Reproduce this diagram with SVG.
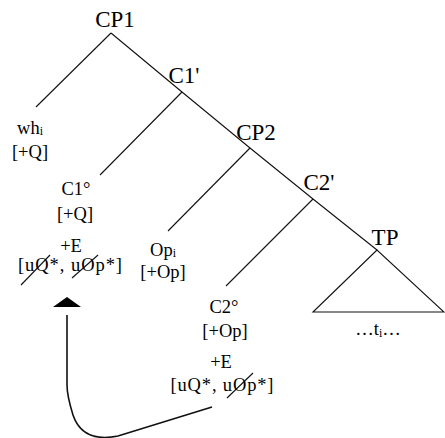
<svg xmlns="http://www.w3.org/2000/svg" width="445" height="438" viewBox="0 0 445 438">
<style>
text{font-family:"Liberation Serif","DejaVu Serif","Times New Roman",serif;fill:#000;text-anchor:middle}
.lbl{font-size:23px}
.sm{font-size:18.5px}
.sub{font-size:12px}
.ln{stroke:#111;stroke-width:1.1;fill:none}
</style>
<rect width="445" height="438" fill="#fff"/>
<g id="connectors">
<path class="ln" d="M111,33 L36,107"/>
<path class="ln" d="M111,33 L182,92 L250,148 L313,199 L377,250"/>
<path class="ln" d="M182,92 L100,175"/>
<path class="ln" d="M250,148 L168,231"/>
<path class="ln" d="M313,199 L226,286"/>
<path class="ln" d="M377,250 L313,312 L444,312 Z"/>
<path class="ln" d="M21,285 L50,255"/>
<path class="ln" d="M72,278 L98,255"/>
<path class="ln" d="M227,398 L253,373"/>
<path d="M212,407 L118,436 C98,440 80,436 73,415 C69,402 67,394 67,385 L67,315" fill="none" stroke="#111" stroke-width="1.6"/>
<polygon points="67,297 53,307 81,307" fill="#000"/>
</g>
<g id="CP1"><text class="lbl" x="115" y="27">CP1</text></g>
<g id="C1bar"><text class="lbl" x="184" y="83">C1'</text></g>
<g id="CP2"><text class="lbl" x="256" y="140">CP2</text></g>
<g id="C2bar"><text class="lbl" x="319" y="190">C2'</text></g>
<g id="TP"><text class="lbl" x="385" y="245">TP</text>
<text class="sm" x="378" y="335">…t<tspan class="sub" dy="2">i</tspan><tspan dy="-2">…</tspan></text></g>
<g id="wh"><text class="sm" x="30" y="134">wh<tspan class="sub" dy="1">i</tspan></text>
<text class="sm" x="30" y="158">[+Q]</text></g>
<g id="C1head"><text class="sm" x="76" y="195">C1°</text>
<text class="sm" x="75" y="220">[+Q]</text>
<text class="sm" x="71" y="252">+E</text>
<text class="sm" x="70" y="271" textLength="104" lengthAdjust="spacing">[uQ*, uOp*]</text></g>
<g id="Op"><text class="sm" x="163" y="256">Op<tspan class="sub" dy="1">i</tspan></text>
<text class="sm" x="163" y="278">[+Op]</text></g>
<g id="C2head"><text class="sm" x="224" y="313">C2°</text>
<text class="sm" x="225" y="337">[+Op]</text>
<text class="sm" x="221" y="368">+E</text>
<text class="sm" x="222" y="391" textLength="103" lengthAdjust="spacing">[uQ*, uOp*]</text></g>
</svg>
